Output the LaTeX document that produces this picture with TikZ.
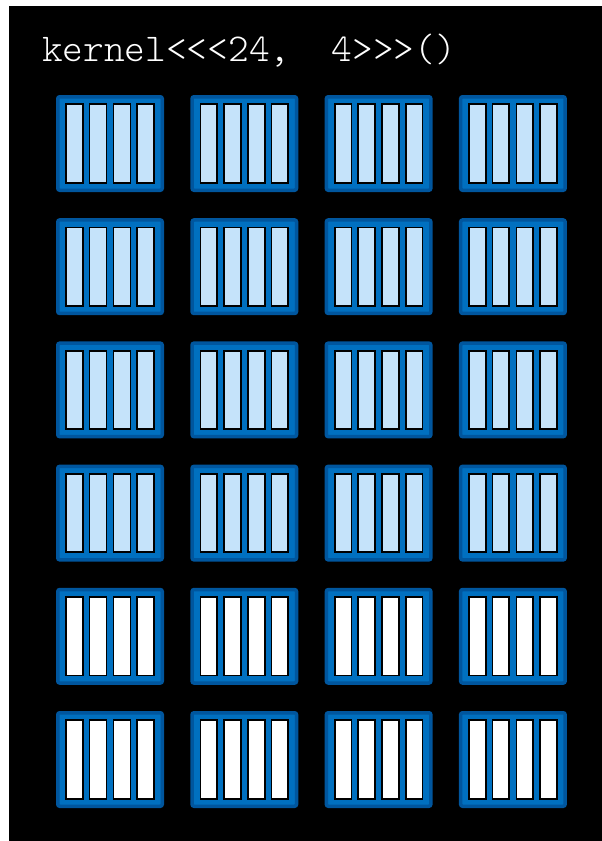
\documentclass[tikz,border=0pt]{standalone}
\usetikzlibrary{positioning}

\definecolor{gridedge}{HTML}{00569E}
\definecolor{gridfill}{HTML}{0070C0}
\definecolor{busy}{HTML}{C5E3FA}

\begin{document}
\begin{tikzpicture}[x=1bp, y=-1bp,
    threadblock/.style={rectangle, draw=gridedge, fill=gridfill, line width=3.5bp, rounded corners=2bp, minimum width=104.5bp, minimum height=93.5bp, inner sep=0pt},
    thread/.style={rectangle, draw=black, fill=busy, line width=1.7bp, minimum width=16.8bp, minimum height=78.4bp, inner sep=0pt},
    idle/.style={thread, fill=white},
    launch/.style={font=\ttfamily\fontseries{l}\fontsize{39.4bp}{40bp}\selectfont, text=white, anchor=base west, inner sep=0pt}
]
    % page and black backdrop
    \useasboundingbox[fill=white] (0,0) rectangle (602,841);
    \fill[black] (9,6) rectangle (602,841);

    \node[launch] (call) at (42,61) {kernel<<<24,\ \ 4>>>()};

    % 6 x 4 grid of blocks, 4 threads each
    \foreach \r/\kind in {0/thread,1/thread,2/thread,3/thread,4/idle,5/idle} {
        \foreach \c in {0,...,3} {
            \node[threadblock] (blk-\r-\c) at (110+134.3*\c, 143.5+123.2*\r) {};
            \foreach \t/\dx in {1/-35.5,2/-12,3/12,4/35.5}
                \node[\kind] (thr-\r-\c-\t) at ([xshift=\dx bp]blk-\r-\c.center) {};
        }
    }
\end{tikzpicture}
\end{document}
